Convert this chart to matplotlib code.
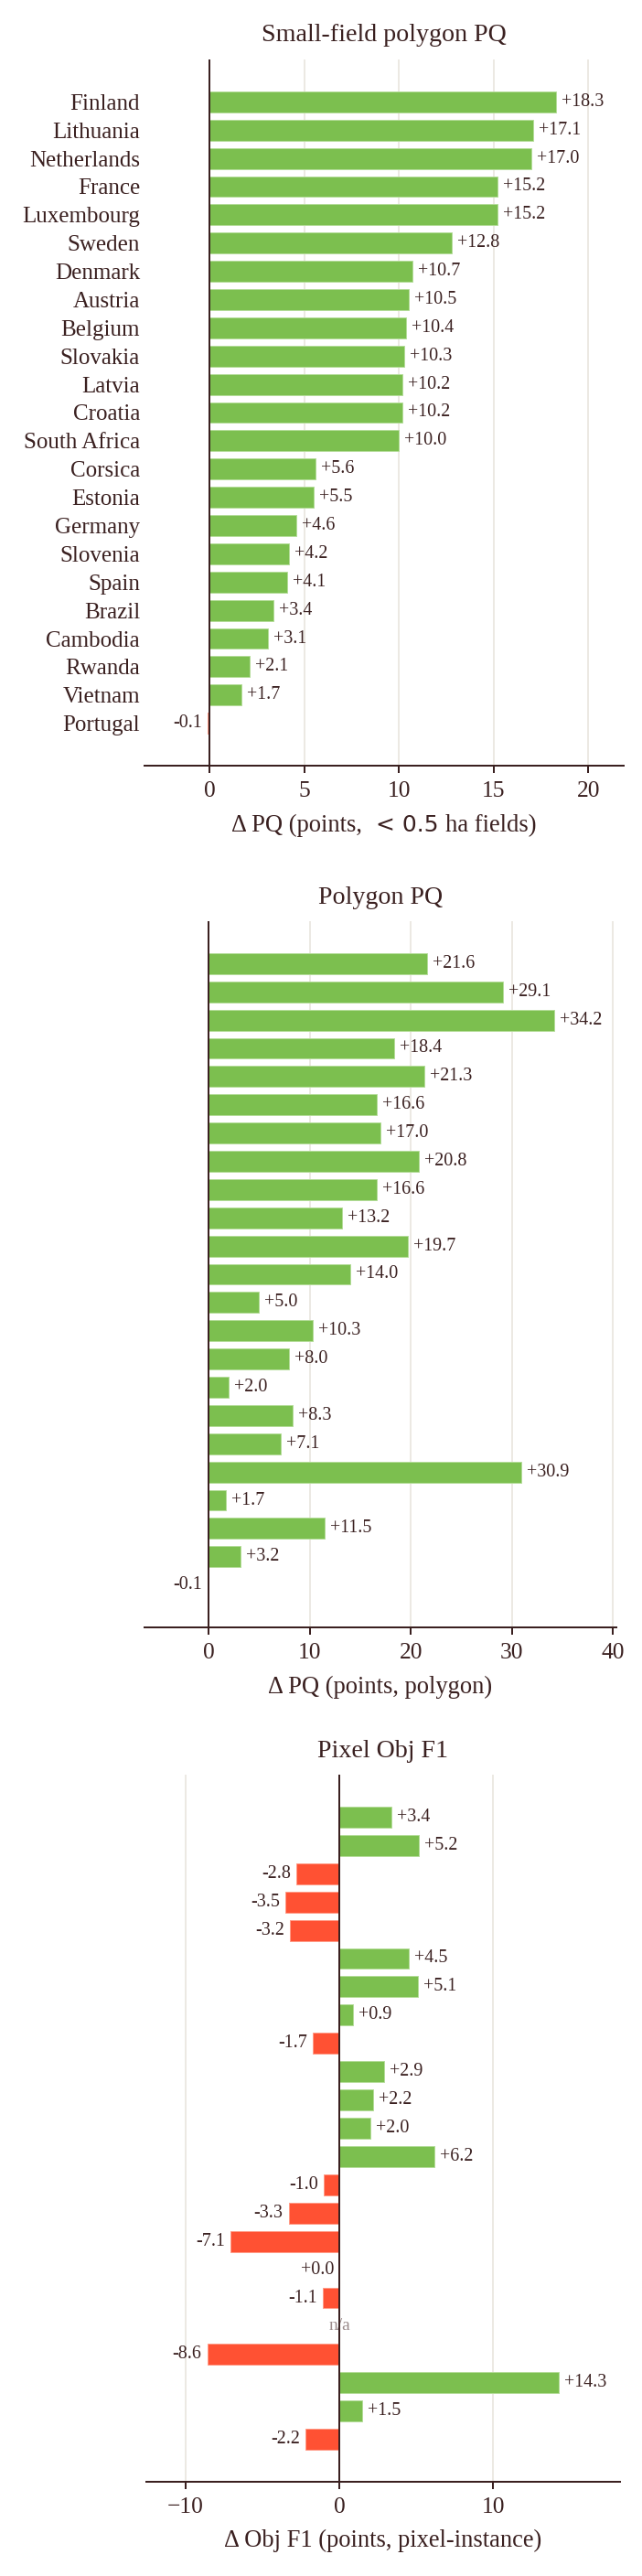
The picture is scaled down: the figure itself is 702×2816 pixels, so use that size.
import matplotlib
matplotlib.use("Agg")
import matplotlib.pyplot as plt

# ---------------- data ----------------
countries = ["Finland", "Lithuania", "Netherlands", "France", "Luxembourg", "Sweden",
             "Denmark", "Austria", "Belgium", "Slovakia", "Latvia", "Croatia",
             "South Africa", "Corsica", "Estonia", "Germany", "Slovenia", "Spain",
             "Brazil", "Cambodia", "Rwanda", "Vietnam", "Portugal"]
small_field_pq = [18.3, 17.1, 17.0, 15.2, 15.2, 12.8, 10.7, 10.5, 10.4, 10.3, 10.2, 10.2,
                  10.0, 5.6, 5.5, 4.6, 4.2, 4.1, 3.4, 3.1, 2.1, 1.7, -0.1]
polygon_pq = [21.6, 29.1, 34.2, 18.4, 21.3, 16.6, 17.0, 20.8, 16.6, 13.2, 19.7, 14.0,
              5.0, 10.3, 8.0, 2.0, 8.3, 7.1, 30.9, 1.7, 11.5, 3.2, -0.1]
pixel_obj_f1 = [3.4, 5.2, -2.8, -3.5, -3.2, 4.5, 5.1, 0.9, -1.7, 2.9, 2.2, 2.0,
                6.2, -1.0, -3.3, -7.1, 0.0, -1.1, None, -8.6, 14.3, 1.5, -2.2]
ticks_small = [0, 5, 10, 15, 20]
ticks_poly = [0, 10, 20, 30, 40]
ticks_pix = [-10, 0, 10]

# ---------------- style ----------------
W, H, DPI = 702, 2816, 100
DARK = "#3a2020"
GRID = "#e6e2da"
GREEN = "#7cbf4f"
GREEN_EDGE = "#b4dc99"
RED = "#ff5133"
RED_EDGE = "#ff9c88"
NA_COLOR = "#9c8c8c"
SERIF = ["Liberation Serif", "DejaVu Serif"]
plt.rcParams["font.family"] = SERIF
plt.rcParams["axes.unicode_minus"] = True


def pt(p):
    return p * 72.0 / DPI


fig = plt.figure(figsize=(W / DPI, H / DPI), dpi=DPI)
fig.patch.set_facecolor("white")


def fx(x):
    return x / W


def fy(y):
    return 1 - y / H


def panel(left, right, top, bottom, xlim, ticks, vals, labels=None):
    ax = fig.add_axes([fx(left), fy(bottom), (right - left) / W, (bottom - top) / H])
    n = len(vals)
    ax.set_xlim(*xlim)
    ax.set_ylim(n + 0.5, -1.5)
    for t in ticks:
        if t != 0:
            ax.axvline(t, color=GRID, lw=pt(1.5), zorder=1)
    ys = list(range(n))
    bar_vals = [0 if v is None else v for v in vals]
    cols = [GREEN if v > 0 else RED for v in bar_vals]
    edges = [GREEN_EDGE if v > 0 else RED_EDGE for v in bar_vals]
    ax.barh(ys, bar_vals, height=0.74, color=cols, edgecolor=edges,
            linewidth=pt(1), zorder=2)
    ax.axvline(0, color=DARK, lw=pt(2), zorder=3)
    for i, v in enumerate(vals):
        if v is None:
            ax.text(0, i, "n/a", ha="center", va="center", color=NA_COLOR,
                    fontsize=pt(19.5), zorder=2.5)
            continue
        txt = f"{v:+.1f}"
        if v > 0:
            ax.annotate(txt, xy=(v, i), xytext=(pt(6), 0), textcoords="offset points",
                        ha="left", va="center", color=DARK, fontsize=pt(20))
        else:
            ax.annotate(txt, xy=(v, i), xytext=(-pt(6), 0), textcoords="offset points",
                        ha="right", va="center", color=DARK, fontsize=pt(20))
    for s in ["top", "right", "left"]:
        ax.spines[s].set_visible(False)
    ax.spines["bottom"].set_color(DARK)
    ax.spines["bottom"].set_linewidth(pt(2))
    ax.set_xticks(ticks)
    ax.tick_params(axis="x", length=pt(8), width=pt(2), color=DARK,
                   labelcolor=DARK, labelsize=pt(25.5), pad=pt(9))
    if labels is not None:
        ax.set_yticks(ys)
        ax.set_yticklabels(labels)
        ax.tick_params(axis="y", length=0, pad=pt(5), labelsize=pt(25), labelcolor=DARK)
    else:
        ax.set_yticks([])
    ax.set_facecolor("none")
    return ax


# ---------------- panel 1 ----------------
panel(158, 682, 65, 837, (-3.43, 21.87), ticks_small, small_field_pq, countries)
fig.text(fx(420), fy(45), "Small-field polygon PQ", ha="center", va="baseline",
         fontsize=pt(28), color=DARK)

# composite axis title with sans fragment
renderer = fig.canvas.get_renderer()
parts = [("Δ PQ (points,", SERIF, 26.5), ("< 0.5", ["DejaVu Sans"], 25), ("ha fields)", SERIF, 26.5)]
gaps = [15, 8]
texts = []
for s, fam, size in parts:
    t = fig.text(0, fy(909), s, ha="left", va="baseline", fontsize=pt(size),
                 color=DARK, family=fam)
    texts.append(t)
widths = [t.get_window_extent(renderer).width for t in texts]
total = sum(widths) + sum(gaps)
x = 420 - total / 2
for k, t in enumerate(texts):
    t.set_x(fx(x))
    x += widths[k] + (gaps[k] if k < len(gaps) else 0)

# ---------------- panel 2 ----------------
panel(158, 674, 1007, 1779, (-6.33, 40.33), ticks_poly, polygon_pq)
fig.text(fx(416), fy(988), "Polygon PQ", ha="center", va="baseline",
         fontsize=pt(28), color=DARK)
fig.text(fx(416), fy(1851), "Δ PQ (points, polygon)", ha="center", va="baseline",
         fontsize=pt(26.5), color=DARK)

# ---------------- panel 3 ----------------
panel(160, 678, 1940, 2713, (-12.56, 18.27), ticks_pix, pixel_obj_f1)
fig.text(fx(419), fy(1921), "Pixel Obj F1", ha="center", va="baseline",
         fontsize=pt(28), color=DARK)
fig.text(fx(419), fy(2784), "Δ Obj F1 (points, pixel-instance)", ha="center",
         va="baseline", fontsize=pt(26.5), color=DARK)

fig.savefig("out.png", dpi=DPI, facecolor="white")
